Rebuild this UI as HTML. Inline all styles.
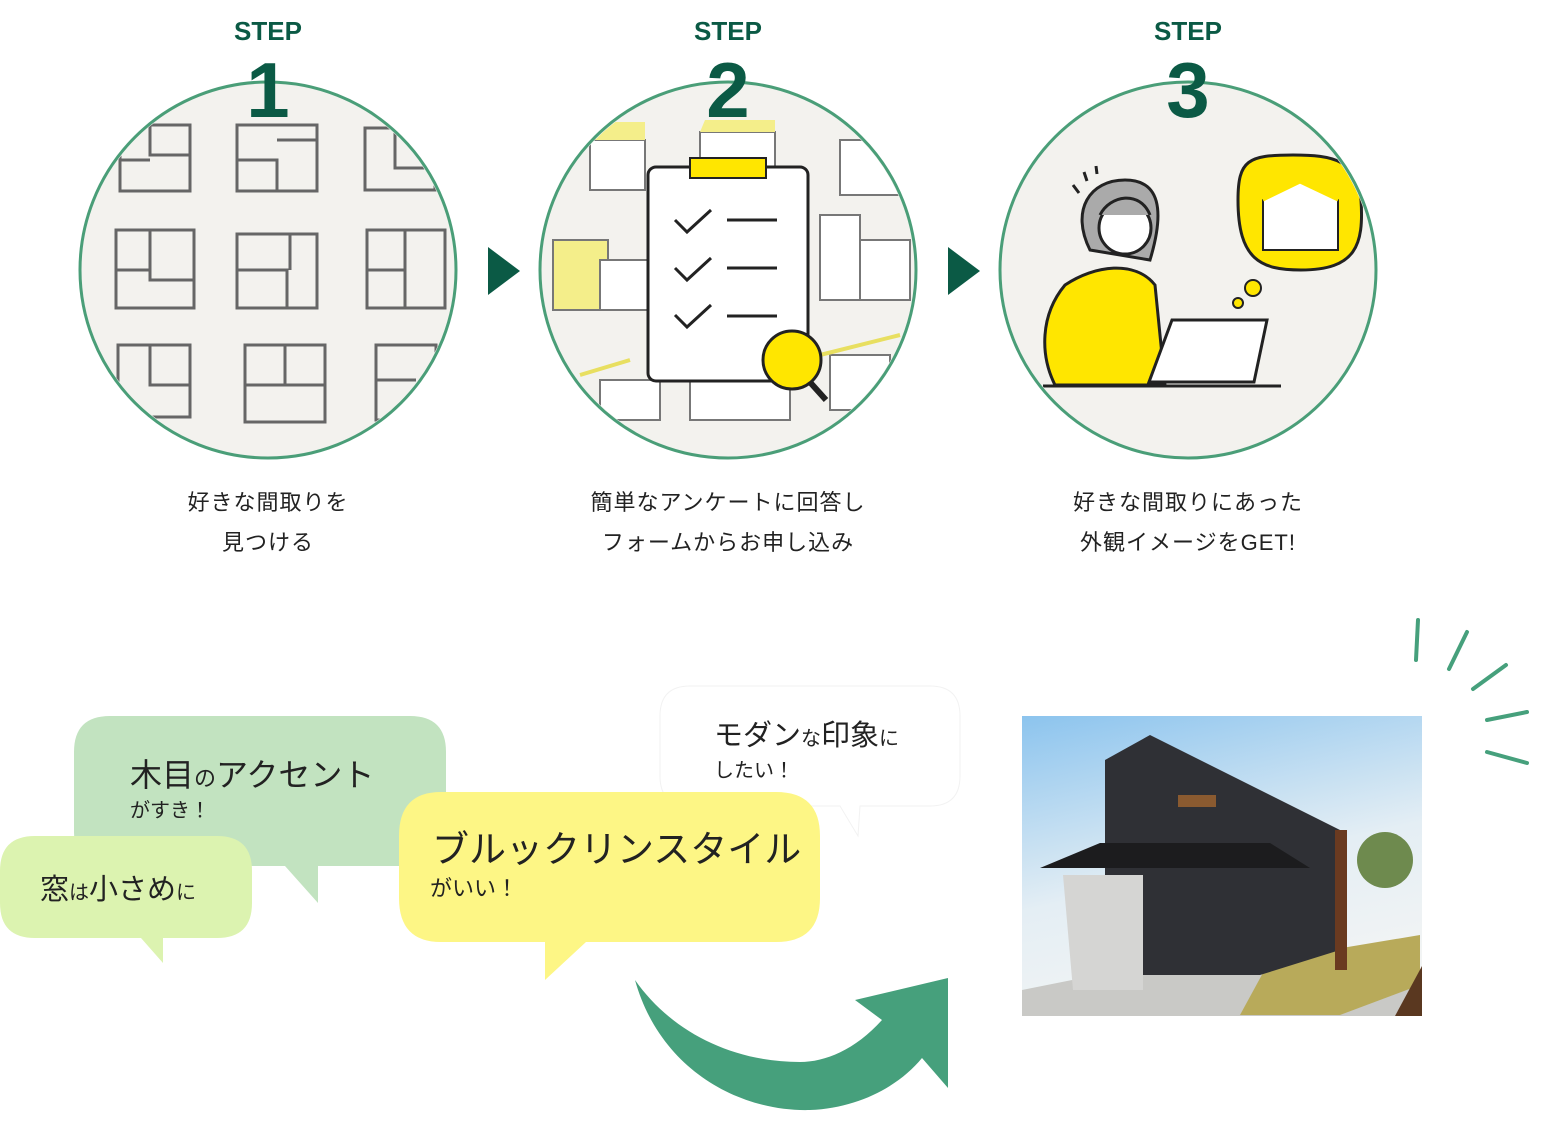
<!DOCTYPE html>
<html><head><meta charset="utf-8"><style>
html,body{margin:0;padding:0;background:#fff;}
body{width:1565px;height:1142px;overflow:hidden;position:relative;font-family:"Liberation Sans","Noto Sans CJK JP",sans-serif;}
svg{position:absolute;left:0;top:0}
.t{font-family:"Liberation Sans","Noto Sans CJK JP",sans-serif;}
</style></head><body>
<svg width="1565" height="1142" viewBox="0 0 1565 1142" xmlns="http://www.w3.org/2000/svg">
<defs>
<clipPath id="c1"><circle cx="268" cy="270" r="186"/></clipPath>
<clipPath id="c2"><circle cx="728" cy="270" r="186"/></clipPath>
<clipPath id="c3"><circle cx="1188" cy="270" r="186"/></clipPath>
<linearGradient id="sky" x1="0" y1="0" x2="0.3" y2="1"><stop offset="0" stop-color="#8cc4ee"/><stop offset="0.6" stop-color="#e4eef4"/><stop offset="1" stop-color="#f2f4f4"/></linearGradient>
</defs>

<circle cx="268" cy="270" r="188" fill="#f3f2ee" stroke="#4a9e78" stroke-width="3"/>
<circle cx="728" cy="270" r="188" fill="#f3f2ee" stroke="#4a9e78" stroke-width="3"/>
<circle cx="1188" cy="270" r="188" fill="#f3f2ee" stroke="#4a9e78" stroke-width="3"/>

<g clip-path="url(#c1)" fill="none" stroke="#666" stroke-width="3">
<rect x="120" y="125" width="70" height="66"/><path d="M150 125v30h40M120 160h30"/>
<rect x="237" y="125" width="80" height="66"/><path d="M237 160h40v31M277 140h40"/>
<rect x="365" y="128" width="70" height="62"/><path d="M395 128v40h40"/>
<rect x="116" y="230" width="78" height="78"/><path d="M150 230v50h44M116 270h34"/>
<rect x="237" y="234" width="80" height="74"/><path d="M237 270h50v38M290 234v36"/>
<rect x="367" y="230" width="78" height="78"/><path d="M405 230v78M367 270h38"/>
<rect x="118" y="345" width="72" height="72"/><path d="M150 345v40h40"/>
<rect x="245" y="345" width="80" height="77"/><path d="M245 385h80M285 345v40"/>
<rect x="376" y="345" width="60" height="75"/><path d="M376 380h40"/>
</g>

<g clip-path="url(#c2)">
<g fill="#fff" stroke="#777" stroke-width="2">
<rect x="590" y="140" width="55" height="50"/><rect x="700" y="132" width="75" height="40"/>
<rect x="840" y="140" width="60" height="55"/><rect x="553" y="240" width="55" height="70" fill="#f4ee8a"/>
<rect x="600" y="260" width="50" height="50"/><rect x="820" y="215" width="40" height="85"/>
<rect x="860" y="240" width="50" height="60"/><rect x="600" y="380" width="60" height="40"/>
<rect x="690" y="380" width="100" height="40"/><rect x="830" y="355" width="60" height="55"/>
</g>
<path d="M590 140l10-18h45v18z" fill="#f4ee8a"/><path d="M700 132l5-12h70v12z" fill="#f4ee8a"/>
<path d="M580 375l50-15M820 355l80-20" stroke="#e8df60" stroke-width="4"/>
</g>
<rect x="648" y="167" width="160" height="214" rx="8" fill="#fff" stroke="#222" stroke-width="3"/>
<rect x="690" y="158" width="76" height="20" fill="#ffe600" stroke="#222" stroke-width="2"/>
<g fill="none" stroke="#222" stroke-width="3">
<path d="M675 220l12 12 24-22M675 268l12 12 24-22M675 315l12 12 24-22"/>
<path d="M727 220h50M727 268h50M727 316h50"/>
<path d="M808 380l18 20" stroke-width="6"/>
</g>
<circle cx="792" cy="360" r="29" fill="#ffe600" stroke="#222" stroke-width="3"/>

<g clip-path="url(#c3)">
<path d="M1238 200c0-40 10-45 55-45 40 0 65 5 68 45 3 45-5 70-60 70-40 0-63-10-63-70z" fill="#ffe600" stroke="#222" stroke-width="3"/>
<path d="M1263 200l37-18 38 18v50h-75z" fill="#fff" stroke="#222" stroke-width="2"/>
<path d="M1263 200l37-18 38 18" fill="none" stroke="#ffe600" stroke-width="3"/>
<circle cx="1253" cy="288" r="8" fill="#ffe600" stroke="#222" stroke-width="2"/>
<circle cx="1238" cy="303" r="5" fill="#ffe600" stroke="#222" stroke-width="2"/>
<path d="M1090 250c-20-40 0-70 35-70s40 30 25 80z" fill="#aaa" stroke="#222" stroke-width="3"/>
<circle cx="1125" cy="228" r="26" fill="#fff" stroke="#222" stroke-width="3"/>
<path d="M1100 215c10-20 40-25 50 0" fill="#aaa" stroke="#222" stroke-width="3"/>
<path d="M1065 285c30-20 70-25 90 0l10 100h-110c-15-30-15-70 10-100z" fill="#ffe600" stroke="#222" stroke-width="3"/>
<path d="M1172 320h95l-13 62h-105z" fill="#fff" stroke="#222" stroke-width="3"/>
<path d="M1043 386h238" stroke="#222" stroke-width="3"/>
<path d="M1073 185l6 8M1084 172l3 9M1096 166l1 8" stroke="#222" stroke-width="3"/>
</g>

<g class="t" fill="#0b5a45" font-weight="bold" text-anchor="middle">
<text x="268" y="40" font-size="26">STEP</text><text x="728" y="40" font-size="26">STEP</text><text x="1188" y="40" font-size="26">STEP</text>
<text x="268" y="117" font-size="78">1</text><text x="728" y="117" font-size="78">2</text><text x="1188" y="117" font-size="78">3</text>
</g>

<path d="M488 247l32 24-32 24z" fill="#0b5a45"/>
<path d="M948 247l32 24-32 24z" fill="#0b5a45"/>

<g class="t" fill="#222" font-size="22" text-anchor="middle" letter-spacing="1">
<text x="268" y="510">好きな間取りを</text><text x="268" y="550">見つける</text>
<text x="728" y="510">簡単なアンケートに回答し</text><text x="728" y="550">フォームからお申し込み</text>
<text x="1188" y="510">好きな間取りにあった</text><text x="1188" y="550">外観イメージをGET!</text>
</g>

<path d="M690 686h240q30 0 30 30v60q0 30-30 30h-70l-2 30-18-30h-150q-30 0-30-30v-60q0-30 30-30z" fill="#fff" stroke="#f2f2f2" stroke-width="1"/>
<path d="M110 716h300q36 0 36 36v80q0 34-36 34h-92v37l-33-37h-170q-41 0-41-34v-80q0-36 36-36z" fill="#c2e3c0"/>
<path d="M35 836h182q35 0 35 35v32q0 35-35 35h-54v25l-22-25h-106q-35 0-35-35v-32q0-35 35-35z" fill="#dcf3b0"/>
<path d="M440 792h336q44 0 44 44v62q0 44-44 44h-190l-41 38v-38h-104q-42 0-42-44v-62q0-44 42-44z" fill="#fdf685"/>

<g class="t" fill="#222">
<text x="714" y="745" font-size="29">モダン<tspan font-size="20">な</tspan>印象<tspan font-size="20">に</tspan></text>
<text x="714" y="777" font-size="20">したい！</text>
<text x="130" y="786" font-size="32">木目<tspan font-size="22">の</tspan>アクセント</text>
<text x="130" y="817" font-size="20">がすき！</text>
<text x="40" y="899" font-size="29">窓<tspan font-size="20">は</tspan>小さめ<tspan font-size="20">に</tspan></text>
<text x="432" y="862" font-size="37">ブルックリンスタイル</text>
<text x="430" y="896" font-size="22">がいい！</text>
</g>

<path d="M635 980C660 1070 740 1112 810 1110C860 1108 900 1085 922 1058L948 1088L948 978L855 1000L882 1020C855 1050 825 1062 800 1062C730 1062 670 1030 635 980Z" fill="#46a07c"/>

<rect x="1022" y="716" width="400" height="300" fill="url(#sky)"/>
<path d="M1022 990l150-30 250 20v36h-400z" fill="#c9c9c6"/>
<path d="M1270 960l150-25v50l-80 30h-100z" fill="#b8aa5a"/>
<path d="M1105 850v-90l45-25 190 95v120l-80 25h-155z" fill="#2f3035"/>
<path d="M1040 868l60-25h170l40 25z" fill="#1c1c1e"/>
<path d="M1063 875h80v115h-70z" fill="#d5d5d3"/>
<path d="M1335 830h12v140h-12z" fill="#6a3a20"/>
<rect x="1178" y="795" width="38" height="12" fill="#8a5a30"/>
<circle cx="1385" cy="860" r="28" fill="#6e8a4e"/>
<path d="M1395 1016l27-50v50z" fill="#5a3820"/>

<g stroke="#46a07c" stroke-width="4" stroke-linecap="round">
<path d="M1418 620l-2 40M1467 632l-18 37M1506 665l-33 24M1527 712l-40 8M1527 763l-40-11"/>
</g>
</svg>
</body></html>
